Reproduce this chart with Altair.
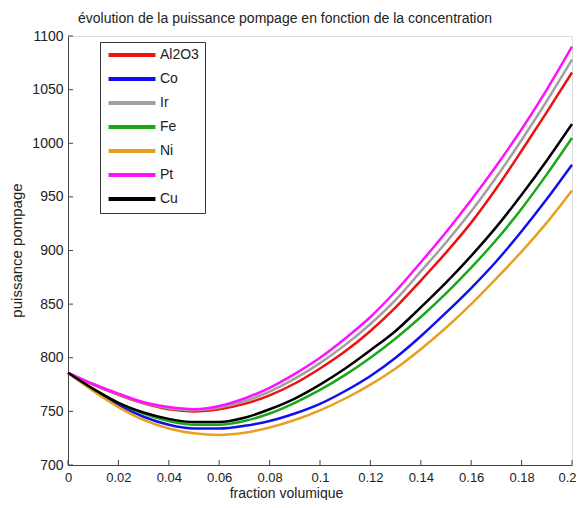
import altair as alt
import pandas as pd

x_vals = [round(i * 0.01, 2) for i in range(21)]

al2o3 = [786, 775, 765.5, 757.5, 752, 750, 752, 757, 765, 776, 790, 806, 825, 847, 872, 898, 926, 958, 993, 1029, 1066]
co    = [786, 770, 756, 745, 737.5, 734, 734, 736.5, 741, 748, 757, 769, 783, 800, 820, 842, 865, 890, 918, 948, 980]
ir    = [786, 775.5, 766, 758, 753, 751, 753.5, 759.5, 768.5, 780.5, 795, 812, 831.5, 854, 880.5, 907.5, 936.5, 968.5, 1003, 1039.5, 1078]
fe    = [786, 771, 758, 748, 741, 737.5, 737.5, 741, 748, 758, 770, 784, 800, 818, 838, 860, 884, 910, 939, 971, 1005]
ni    = [786, 769, 754, 742, 734, 729.5, 728, 730, 735, 742, 751, 762, 775, 790, 808, 828, 850, 874, 899, 926, 956]
pt    = [786, 775.5, 766.5, 758.5, 754, 752, 755, 762, 772, 785, 800, 818, 838, 862, 889, 917, 947, 979, 1013, 1050, 1090]
cu    = [786, 771, 758, 749, 743, 740, 740, 744, 752, 762, 775, 790, 807, 825, 847, 870, 895, 922, 952, 984, 1018]

series_names = ["Al2O3", "Co", "Ir", "Fe", "Ni", "Pt", "Cu"]
series_values = [al2o3, co, ir, fe, ni, pt, cu]
series_colors = ["#ee1111", "#1010ee", "#a0a0a0", "#18a818", "#e8a020", "#ff10ff", "#000000"]

x_ticks = [0, 0.02, 0.04, 0.06, 0.08, 0.1, 0.12, 0.14, 0.16, 0.18, 0.2]
y_ticks = [700, 750, 800, 850, 900, 950, 1000, 1050, 1100]

title_text = "évolution de la puissance pompage en fonction de la concentration"

rows = []
for name, vals in zip(series_names, series_values):
    for xv, yv in zip(x_vals, vals):
        rows.append({"x": xv, "y": yv, "serie": name})
df = pd.DataFrame(rows)

FONT = "Liberation Sans"
TXT = "#222222"
AX = "#444444"

xscale = alt.Scale(domain=[0, 0.2], nice=False)
yscale = alt.Scale(domain=[700, 1100], nice=False, zero=False)

lines = alt.Chart(df).mark_line(strokeWidth=2.5, interpolate="monotone").encode(
    x=alt.X("x:Q", scale=xscale,
            axis=alt.Axis(values=x_ticks, format="~g", title="fraction volumique",
                          ticks=False, labelPadding=6, labelFontSize=13, labelColor=TXT,
                          labelFont=FONT, titleFont=FONT, titleFontSize=14,
                          titleFontWeight="normal", titleColor=TXT,
                          titleX=218, titleY=32, titleBaseline="alphabetic",
                          labelOffset={"condition": {"test": "datum.value >= 0.199", "value": -5}, "value": 0},
                          domainColor=AX, grid=False, labelFlush=False)),
    y=alt.Y("y:Q", scale=yscale,
            axis=alt.Axis(values=y_ticks, format="d", title="puissance pompage", ticks=False,
                          labelPadding=5, labelFontSize=14, labelColor=TXT, labelFont=FONT,
                          titleFont=FONT, titleFontSize=15, titleFontWeight="normal",
                          titleColor=TXT, titleX=-52, titleY=214, titleAngle=270,
                          titleAlign="center", titleBaseline="middle",
                          domainColor=AX, grid=False, labelFlush=False)),
    color=alt.Color("serie:N",
                    scale=alt.Scale(domain=series_names, range=series_colors),
                    legend=alt.Legend(title=None, orient="none", legendX=32, legendY=6,
                                      symbolType="M-5,0L5,0", symbolSize=88,
                                      symbolStrokeWidth=4, symbolOffset=19,
                                      labelOffset=21, labelFontSize=14, labelFont=FONT,
                                      labelColor=TXT, rowPadding=8, padding=6,
                                      strokeColor="#333333", fillColor="white")),
    order=alt.Order("x:Q"),
)

xtick_df = pd.DataFrame({"t": x_ticks})
ytick_df = pd.DataFrame({"t": y_ticks})

xt = alt.Chart(xtick_df).mark_rule(color=AX, strokeWidth=1).encode(
    x=alt.X("t:Q", scale=xscale), y=alt.value(429), y2=alt.value(424))
yt = alt.Chart(ytick_df).mark_rule(color=AX, strokeWidth=1).encode(
    y=alt.Y("t:Q", scale=yscale), x=alt.value(0), x2=alt.value(5))

title_mark = alt.Chart(pd.DataFrame({"t": [title_text]})).mark_text(
    font=FONT, fontSize=14, color=TXT, align="center", baseline="alphabetic"
).encode(text="t:N", x=alt.value(217), y=alt.value(-13))

chart = alt.layer(xt, yt, lines, title_mark).properties(
    width=504, height=429,
    padding={"left": 60, "top": 28, "right": 4, "bottom": 35},
    autosize=alt.AutoSizeParams(type="none"),
).configure_view(stroke=None).configure(background="white")

chart.save("out.html", embed_options={"renderer": "svg", "actions": False})
